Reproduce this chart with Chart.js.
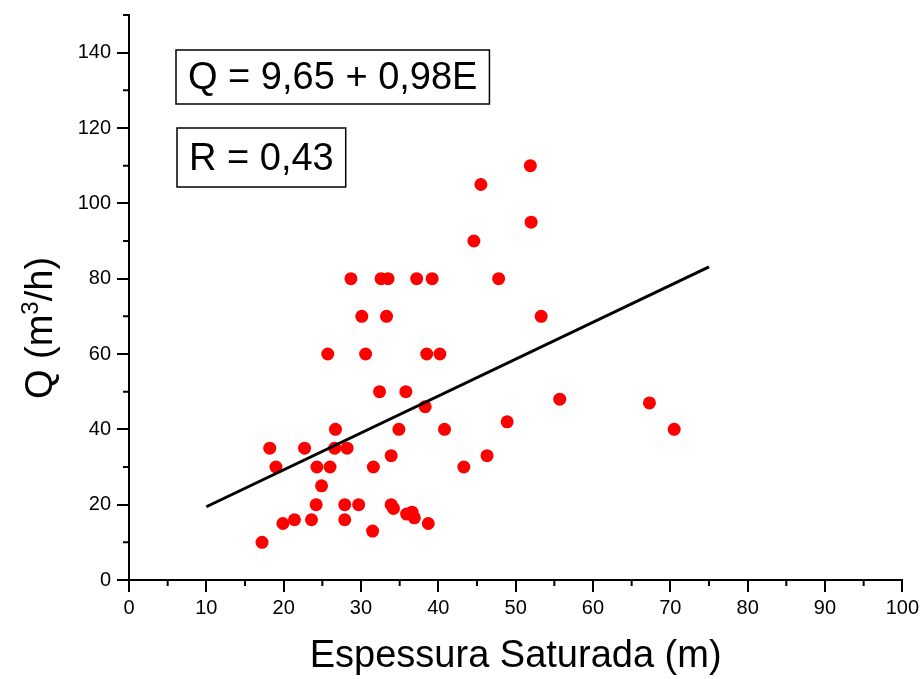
<!DOCTYPE html>
<html>
<head>
<meta charset="utf-8">
<script src="https://cdn.jsdelivr.net/npm/chart.js@4.4.1/dist/chart.umd.min.js"></script>
<style>
  html, body { margin: 0; padding: 0; background: #fff; }
  #wrap { width: 923px; height: 679px; }
</style>
</head>
<body>
<div id="wrap"><canvas id="graph"></canvas></div>
<script>
// espessura saturada (m) e vazão (m3/h) de cada poço
const espessura = [17.2, 18.2, 19.0, 19.9, 21.4, 22.7, 23.6, 24.2, 24.3, 24.9,
  25.7, 26.0, 26.6, 26.7, 27.9, 27.9, 28.2, 28.7, 29.7, 30.1,
  30.6, 31.5, 31.6, 32.4, 32.6, 33.5, 33.3, 33.9, 33.9, 34.2,
  34.9, 35.8, 35.9, 36.6, 36.9, 37.2, 38.3, 38.5, 38.7, 39.2,
  40.2, 40.8, 43.3, 44.6, 45.5, 46.3, 47.8, 48.9, 51.9, 52.0,
  53.3, 55.7, 67.3, 70.5];
const vazao = [10, 35, 30, 15, 16, 35, 16, 20, 30, 25,
  60, 30, 35, 40, 20, 16, 35, 80, 20, 70,
  60, 13, 30, 50, 80, 80, 70, 33, 20, 19,
  40, 50, 17.5, 18, 16.5, 80, 46, 60, 15, 80,
  60, 40, 30, 90, 105, 33, 80, 42, 110, 95,
  70, 48, 47, 40];

// reta ajustada Q = a + bE
const intercepto = 9.65;
const inclinacao = 0.98;
const retaX = [10, 75];
const textoReta = 'Q = 9,65 + 0,98E';
const textoR = 'R = 0,43';

const FONTE = "'Liberation Sans', Arial, sans-serif";

/**
 * marcas menores dos eixos (metade do comprimento)
 */
const marcasMenores = {
  id: 'marcasMenores',
  afterDraw(chart) {
    const ctx = chart.ctx;
    const x = chart.scales.x, y = chart.scales.y;
    ctx.save();
    ctx.strokeStyle = '#000';
    ctx.lineWidth = 2;
    ctx.beginPath();
    x.ticks.forEach((t) => {
      if (t.value % 10 !== 0) {
        let px = x.getPixelForValue(t.value);
        ctx.moveTo(px, y.bottom); ctx.lineTo(px, y.bottom + 6);
      }
    });
    y.ticks.forEach((t) => {
      if (t.value % 20 !== 0) {
        let py = y.getPixelForValue(t.value);
        ctx.moveTo(x.left, py); ctx.lineTo(x.left - 6, py);
      }
    });
    ctx.stroke();
    ctx.restore();
  }
};

/**
 * título do eixo y, com o expoente de m3 elevado
 */
const tituloY = {
  id: 'tituloY',
  afterDraw(chart) {
    const ctx = chart.ctx;
    const partes = [['Q (m', 38, 0], ['3', 24, -14], ['/h)', 38, 0]];
    ctx.save();
    let largura = 0;
    partes.forEach(([t, f]) => { ctx.font = f + 'px ' + FONTE; largura += ctx.measureText(t).width; });
    ctx.translate(52, 328);
    ctx.rotate(-Math.PI / 2);
    ctx.fillStyle = '#000';
    ctx.textBaseline = 'alphabetic';
    let px = -largura / 2;
    partes.forEach(([t, f, dy]) => {
      ctx.font = f + 'px ' + FONTE;
      ctx.fillText(t, px, dy);
      px += ctx.measureText(t).width;
    });
    ctx.restore();
  }
};

/**
 * caixas de texto com a equação e o coeficiente
 */
const caixas = {
  id: 'caixas',
  afterDraw(chart) {
    const ctx = chart.ctx;
    const a = chart.chartArea;
    ctx.save();
    ctx.font = '38px ' + FONTE;
    ctx.textBaseline = 'middle';
    ctx.textAlign = 'center';
    ctx.strokeStyle = '#000';
    ctx.lineWidth = 1.5;
    ctx.fillStyle = '#000';
    [[textoReta, 47, 77, 54], [textoR, 48, 157.5, 59]].forEach(([txt, dx, cy, h]) => {
      let w = ctx.measureText(txt).width + 24;
      let left = a.left + dx;
      ctx.strokeRect(left, cy - h / 2, w, h);
      ctx.fillText(txt, left + w / 2, cy + 2);
    });
    ctx.restore();
  }
};

function desenhaGrafico() {
  let pontos = espessura.map((e, i) => ({ x: e, y: vazao[i] }));
  let reta = retaX.map((e) => ({ x: e, y: intercepto + inclinacao * e }));

  let data = {
    datasets: [
      {
        type: 'line',
        data: reta,
        borderColor: '#000',
        borderWidth: 3,
        pointRadius: 0,
        fill: false
      },
      {
        type: 'scatter',
        data: pontos,
        backgroundColor: '#ff0000',
        borderWidth: 0,
        pointRadius: 6.5
      }
    ]
  };

  let options = {
    responsive: true,
    maintainAspectRatio: false,
    animation: false,
    layout: { padding: { top: 15, right: 20, left: 0, bottom: 0 } },
    scales: {
      x: {
        type: 'linear', min: 0, max: 100,
        afterFit: (s) => { s.height = 99; },
        border: { color: '#000', width: 2 },
        grid: {
          drawOnChartArea: false, tickLength: 12, lineWidth: 2,
          color: (c) => (c.tick && c.tick.value % 10 === 0) ? '#000' : 'rgba(0,0,0,0)'
        },
        ticks: {
          stepSize: 5, autoSkip: false, maxRotation: 0, padding: 4,
          color: '#000', font: { size: 20, family: FONTE },
          callback: (v) => v % 10 === 0 ? v : ''
        },
        title: {
          display: true, text: 'Espessura Saturada (m)', color: '#000',
          font: { size: 38, family: FONTE }, padding: { top: 9, bottom: 0 }
        }
      },
      y: {
        type: 'linear', min: 0, max: 150,
        afterFit: (s) => { s.width = 129; s.paddingTop = 0; s.paddingBottom = 0; },
        border: { color: '#000', width: 2 },
        grid: {
          drawOnChartArea: false, tickLength: 12, lineWidth: 2,
          color: (c) => (c.tick && c.tick.value % 20 === 0) ? '#000' : 'rgba(0,0,0,0)'
        },
        ticks: {
          stepSize: 10, autoSkip: false, padding: 6,
          color: '#000', font: { size: 20, family: FONTE },
          callback: (v) => v % 20 === 0 ? v : ''
        },
        title: { display: false }
      }
    },
    plugins: {
      legend: { display: false },
      tooltip: { enabled: false }
    }
  };

  let ctx = document.getElementById('graph').getContext('2d');
  new Chart(ctx, { type: 'scatter', data: data, options: options, plugins: [marcasMenores, caixas, tituloY] });
}

desenhaGrafico();
</script>
</body>
</html>
